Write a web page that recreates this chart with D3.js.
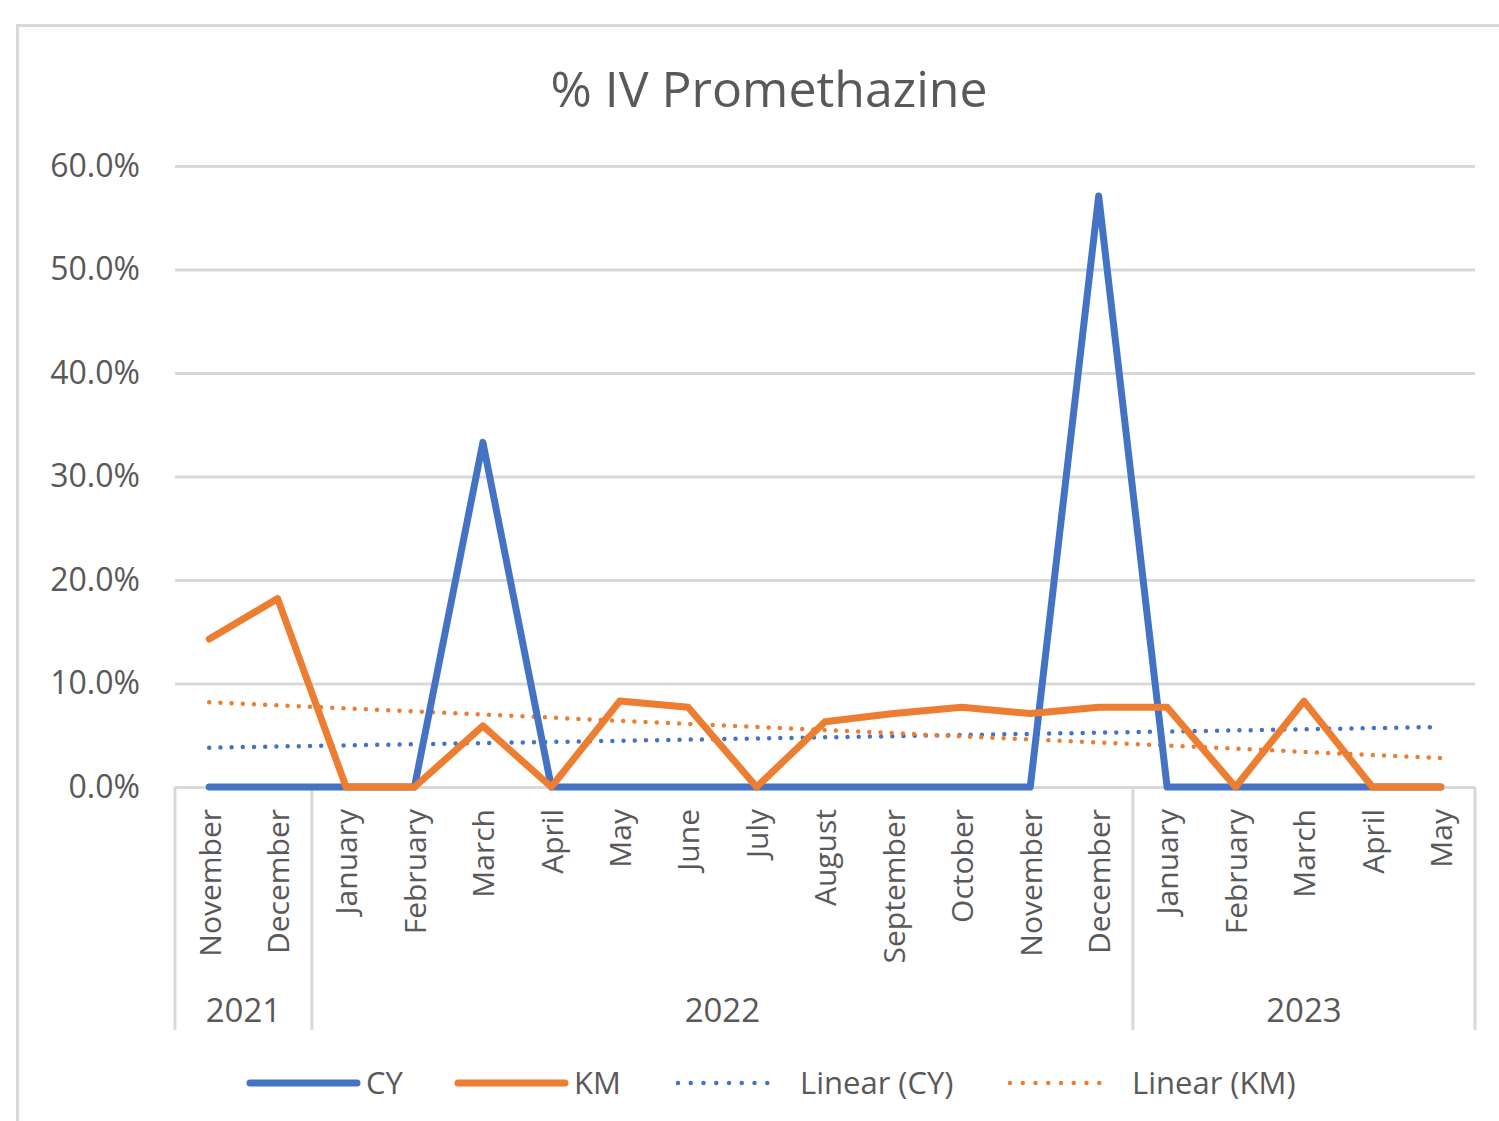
<!DOCTYPE html>
<html>
<head>
<meta charset="utf-8">
<script src="https://cdn.jsdelivr.net/npm/d3@7"></script>
<style>
  body { margin: 0; background: #fff; }
  text { font-family: "Open Sans", "Noto Sans", sans-serif; fill: #595959; }
</style>
</head>
<body>
<div id="chart"></div>
<script>
// months Nov 2021 - May 2023, values in %
var months = ["November", "December", "January", "February", "March", "April", "May", "June",
  "July", "August", "September", "October", "November", "December", "January", "February",
  "March", "April", "May"];
var years = ["2021", "2022", "2023"];
var yearCounts = [2, 12, 5];
var cyValues = [0, 0, 0, 0, 33.3, 0, 0, 0, 0, 0, 0, 0, 0, 57.1, 0, 0, 0, 0, 0];
var kmValues = [14.3, 18.2, 0, 0, 5.9, 0, 8.3, 7.7, 0, 6.3, 7.1, 7.7, 7.1, 7.7, 7.7, 0, 8.3, 0, 0];
// linear trend lines, start / end values
var trendCY = [3.8, 5.8];
var trendKM = [8.2, 2.8];
var yTicks = [0, 10, 20, 30, 40, 50, 60];

var svgWidth = 1499;
var svgHeight = 1121;

var margin = { top: 166, right: 24, bottom: 334, left: 175 };
var width = svgWidth - margin.left - margin.right;   // 1300
var height = svgHeight - margin.top - margin.bottom; // 621

var blue = "#4472C4";
var orange = "#ED7D31";
var gridColor = "#D9D9D9";

var svg = d3.select("#chart")
  .append("svg")
  .attr("width", svgWidth)
  .attr("height", svgHeight);

// outer chart border
svg.append("rect")
  .attr("x", 17.5)
  .attr("y", 25.5)
  .attr("width", 1600)
  .attr("height", 1200)
  .attr("fill", "none")
  .attr("stroke", gridColor)
  .attr("stroke-width", 3);

svg.append("text")
  .attr("x", 769)
  .attr("y", 107)
  .attr("text-anchor", "middle")
  .style("font-size", "50px")
  .text("% IV Promethazine");

var chartGroup = svg.append("g")
  .attr("transform", `translate(${margin.left}, ${margin.top})`);

var xScale = d3.scalePoint()
  .domain(d3.range(months.length))
  .range([0, width])
  .padding(0.5);

var step = xScale.step();

var yScale = d3.scaleLinear()
  .domain([0, 60])
  .range([height, 0]);

// gridlines
var leftAxis = d3.axisLeft(yScale)
  .tickValues(yTicks)
  .tickSize(-width)
  .tickPadding(35)
  .tickFormat(d => d.toFixed(1) + "%");

var yAxisG = chartGroup.append("g").call(leftAxis);
yAxisG.select(".domain").remove();
yAxisG.selectAll(".tick line")
  .attr("stroke", gridColor)
  .attr("stroke-width", 3);
yAxisG.selectAll(".tick text")
  .style("font-size", "32px")
  .attr("fill", "#595959");

// category axis
var bottomAxis = d3.axisBottom(xScale)
  .tickSize(0)
  .tickFormat(i => months[i]);

var xAxisG = chartGroup.append("g")
  .attr("transform", `translate(0, ${height})`)
  .call(bottomAxis);
xAxisG.select(".domain")
  .attr("stroke", gridColor)
  .attr("stroke-width", 3);
xAxisG.selectAll(".tick text")
  .attr("transform", "rotate(-90)")
  .attr("text-anchor", "end")
  .attr("x", -22)
  .attr("y", 0)
  .attr("dy", "0.36em")
  .attr("fill", "#595959")
  .style("font-size", "30px");

// year group separators and labels
var bounds = [0];
yearCounts.forEach(function(c, i) { bounds.push(bounds[i] + c); });

chartGroup.selectAll(".sep")
  .data(bounds)
  .enter()
  .append("line")
  .attr("class", "sep")
  .attr("x1", d => d * step)
  .attr("x2", d => d * step)
  .attr("y1", height)
  .attr("y2", height + 243)
  .attr("stroke", gridColor)
  .attr("stroke-width", 3);

chartGroup.selectAll(".year")
  .data(years)
  .enter()
  .append("text")
  .attr("class", "year")
  .attr("x", (d, i) => (bounds[i] + bounds[i + 1]) / 2 * step)
  .attr("y", height + 235)
  .attr("text-anchor", "middle")
  .style("font-size", "33px")
  .text(d => d);

// trend lines
var trendLine = d3.line()
  .x((d, i) => xScale(i === 0 ? 0 : months.length - 1))
  .y(d => yScale(d));

chartGroup.append("path")
  .datum(trendCY)
  .attr("d", trendLine)
  .attr("fill", "none")
  .attr("stroke", blue)
  .attr("stroke-width", 4.5)
  .attr("stroke-linecap", "round")
  .attr("stroke-dasharray", "0 11.2");

chartGroup.append("path")
  .datum(trendKM)
  .attr("d", trendLine)
  .attr("fill", "none")
  .attr("stroke", orange)
  .attr("stroke-width", 4.5)
  .attr("stroke-linecap", "round")
  .attr("stroke-dasharray", "0 11.2");

// data lines
var line = d3.line()
  .x((d, i) => xScale(i))
  .y(d => yScale(d));

chartGroup.append("path")
  .datum(cyValues)
  .attr("d", line)
  .attr("fill", "none")
  .attr("stroke", blue)
  .attr("stroke-width", 7)
  .attr("stroke-linejoin", "round")
  .attr("stroke-linecap", "round");

chartGroup.append("path")
  .datum(kmValues)
  .attr("d", line)
  .attr("fill", "none")
  .attr("stroke", orange)
  .attr("stroke-width", 7)
  .attr("stroke-linejoin", "round")
  .attr("stroke-linecap", "round");

// legend
var legendItems = [
  { name: "CY", color: blue, dotted: false, x: 250 },
  { name: "KM", color: orange, dotted: false, x: 458 },
  { name: "Linear (CY)", color: blue, dotted: true, x: 678 },
  { name: "Linear (KM)", color: orange, dotted: true, x: 1010 }
];

var legend = svg.append("g").attr("transform", "translate(0, 1083)");

legend.selectAll("line")
  .data(legendItems)
  .enter()
  .append("line")
  .attr("x1", d => d.x)
  .attr("x2", d => d.x + (d.dotted ? 102 : 107))
  .attr("y1", 0)
  .attr("y2", 0)
  .attr("stroke", d => d.color)
  .attr("stroke-width", d => d.dotted ? 4.5 : 7)
  .attr("stroke-linecap", "round")
  .attr("stroke-dasharray", d => d.dotted ? "0 12.75" : null);

legend.selectAll("text")
  .data(legendItems)
  .enter()
  .append("text")
  .attr("x", d => d.x + (d.dotted ? 122 : 116))
  .attr("y", 0)
  .attr("dy", "0.36em")
  .style("font-size", "31px")
  .text(d => d.name);
</script>
</body>
</html>
